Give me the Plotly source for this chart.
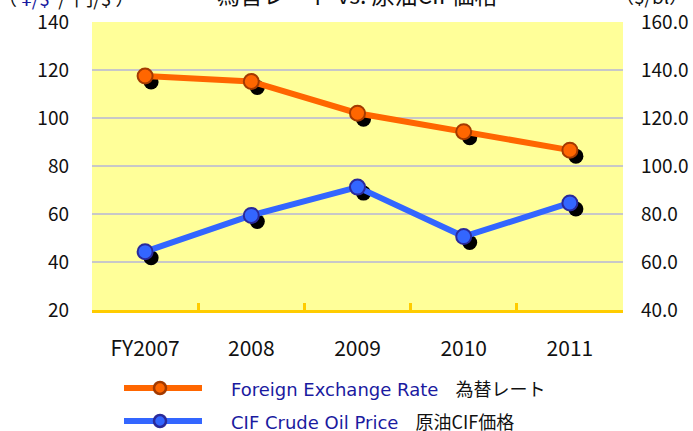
import plotly.graph_objects as go

# ---- data ----
categories = ["FY2007", "2008", "2009", "2010", "2011"]
exchange_rate = [117.5, 115.2, 102.0, 94.3, 86.6]      # ¥/$ (left axis)
oil_price = [64.3, 79.4, 91.2, 70.6, 84.6]              # $/bl (right axis)
left_ticks = [20, 40, 60, 80, 100, 120, 140]
right_ticks = [40, 60, 80, 100, 120, 140, 160]
right_tick_labels = ["40.0", "60.0", "80.0", "100.0", "120.0", "140.0", "160.0"]
series_en = ["Foreign Exchange Rate", "CIF Crude Oil Price"]
series_ja = ["為替レート", "原油CIF価格"]

# ---- layout geometry ----
W, H = 693, 431
ML, MR, MT, MB = 92, 70, 22, 121
PW, PH = W - ML - MR, H - MT - MB
SHADOW_PX_X, SHADOW_PX_Y = 6, 6

xr = [-0.5, len(categories) - 0.5]
yl = [20, 140]
yr = [40, 160]
dx = SHADOW_PX_X * (xr[1] - xr[0]) / PW
dy = SHADOW_PX_Y * (yl[1] - yl[0]) / PH

ORANGE = "#ff6600"
ORANGE_EDGE = "#a33a00"
BLUE = "#3366ff"
BLUE_EDGE = "#2a2a9a"
NAVY = "#1a1aa0"
TICK_FONT = "Noto Sans CJK JP"
TEXT_FONT = "DejaVu Sans, Noto Sans CJK JP"
CJK_FONT = "Noto Sans CJK JP"

fig = go.Figure()

# shadows (on shifted hidden axes)
fig.add_trace(go.Scatter(x=categories, y=exchange_rate, xaxis="x", yaxis="y",
                         mode="markers", marker=dict(size=15, color="black"),
                         showlegend=False, hoverinfo="skip"))
fig.add_trace(go.Scatter(x=categories, y=oil_price, xaxis="x", yaxis="y3",
                         mode="markers", marker=dict(size=15, color="black"),
                         showlegend=False, hoverinfo="skip"))

# main series
fig.add_trace(go.Scatter(
    x=categories, y=exchange_rate, xaxis="x2", yaxis="y2",
    mode="lines+markers", name=series_en[0], showlegend=False,
    line=dict(color=ORANGE, width=6),
    marker=dict(size=15, color=ORANGE, line=dict(color=ORANGE_EDGE, width=2))))
fig.add_trace(go.Scatter(
    x=categories, y=oil_price, xaxis="x2", yaxis="y4",
    mode="lines+markers", name=series_en[1], showlegend=False,
    line=dict(color=BLUE, width=6),
    marker=dict(size=15, color=BLUE, line=dict(color=BLUE_EDGE, width=2))))

tickfont = dict(family=TICK_FONT, size=19, color="#111111")
xtickfont = dict(family=TICK_FONT, size=21, color="#111111")

fig.update_layout(
    width=W, height=H,
    margin=dict(l=ML, r=MR, t=MT, b=MB, autoexpand=False),
    paper_bgcolor="white",
    plot_bgcolor="#ffff99",
    font=dict(family=TEXT_FONT, size=16, color="#111111"),
    showlegend=False,
    xaxis=dict(type="category", range=[xr[0] - dx, xr[1] - dx], visible=False,
               fixedrange=True, automargin=False),
    yaxis=dict(range=[yl[0] + dy, yl[1] + dy], visible=False, fixedrange=True,
               automargin=False),
    yaxis3=dict(range=[yr[0] + dy, yr[1] + dy], visible=False, overlaying="y",
                anchor="x", automargin=False),
    xaxis2=dict(type="category", range=xr, overlaying="x", anchor="y2",
                showgrid=False, showline=True, linecolor="#ffcc00", linewidth=3,
                ticks="inside", tickcolor="#ffcc00", ticklen=7, tickwidth=3,
                tickson="boundaries", tickfont=xtickfont, ticklabelstandoff=18,
                automargin=False),
    yaxis2=dict(range=yl, overlaying="y", anchor="x2", side="left",
                tickvals=left_ticks, showgrid=True, gridcolor="#c8c8c8",
                gridwidth=1.5, zeroline=False, showline=False,
                tickfont=tickfont, ticks="", ticklabelstandoff=22,
                automargin=False),
    yaxis4=dict(range=yr, overlaying="y", anchor="x2", side="right",
                tickvals=right_ticks, ticktext=right_tick_labels,
                showgrid=False, zeroline=False, showline=False,
                tickfont=tickfont, ticks="", ticklabelstandoff=17,
                automargin=False),
)

# ---- manual legend (decoration) ----
legend_rows = [(388, ORANGE, ORANGE_EDGE), (421, BLUE, BLUE_EDGE)]
for i, (py, col, edge) in enumerate(legend_rows):
    yc = (H - py - MB) / PH
    fig.add_shape(type="line", xref="paper", yref="paper",
                  x0=(124 - ML) / PW, x1=(202 - ML) / PW, y0=yc, y1=yc,
                  line=dict(color=col, width=6))
    fig.add_shape(type="circle", xref="paper", yref="paper",
                  x0=(160 - 6 - ML) / PW, x1=(160 + 6 - ML) / PW,
                  y0=yc - 6 / PH, y1=yc + 6 / PH,
                  fillcolor=col, line=dict(color=edge, width=2.5))
    fig.add_annotation(
        text=f"<span style='color:{NAVY}'>{series_en[i]}</span>   "
             f"<span style='font-family:{CJK_FONT}'>{series_ja[i]}</span>",
        xref="paper", yref="paper", x=(229 - ML) / PW, xanchor="left",
        y=yc, yanchor="middle", showarrow=False,
        font=dict(family=TEXT_FONT, size=18, color="#111111"))

# ---- titles at top (partially cut off, as in the reference) ----
fig.add_annotation(text="為替レート vs. 原油CIF価格", xref="paper", yref="paper",
                   x=(357 - ML) / PW, y=1, yanchor="middle", yshift=MT + 6,
                   showarrow=False,
                   font=dict(family=CJK_FONT, size=23, color="#111111"))
fig.add_annotation(text="（ <span style='color:#1a1aa0'>¥/$</span>  /  円/$ ）",
                   xref="paper", yref="paper", x=0, xshift=-ML - 4,
                   xanchor="left", y=1, yanchor="middle", yshift=MT + 3,
                   showarrow=False,
                   font=dict(family=CJK_FONT, size=19, color="#111111"))
fig.add_annotation(text="（$/bl）", xref="paper", yref="paper", x=1,
                   xshift=MR - 3, xanchor="right", y=1, yanchor="middle",
                   yshift=MT + 5, showarrow=False,
                   font=dict(family=CJK_FONT, size=19, color="#111111"))

fig.write_html("out.html", config={"displayModeBar": False},
               post_script="document.body.style.margin='0px';")
